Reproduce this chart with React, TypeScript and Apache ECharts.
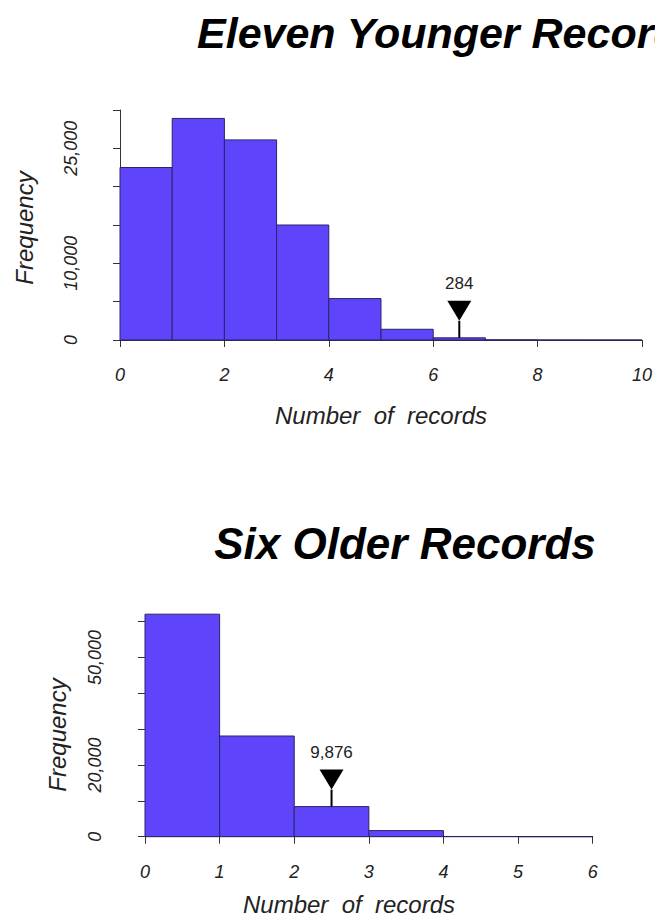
import React, { useEffect, useRef } from "react";
import * as echarts from "echarts";

const FONT = '"Liberation Sans", Arial, Helvetica, sans-serif';

// ---- Data ----
const topTitle = "Eleven Younger Records";
const bottomTitle = "Six Older Records";
const xTitle = "Number  of  records";
const yTitle = "Frequency";

const topBinEdges = [0, 1, 2, 3, 4, 5, 6, 7, 8, 9, 10];
const topCounts = [22500, 28900, 26100, 15000, 5400, 1400, 284, 20, 2, 0];
const topYLabelValues = [0, 10000, 25000];
const topMarkerX = [6.5];
const topMarkerY = [284];
const topMarkerText = ["284"];

const bottomBinEdges = [0, 1, 2, 3, 4, 5, 6];
const bottomCounts = [62100, 28100, 8400, 1700, 60, 0];
const bottomYLabelValues = [0, 20000, 50000];
const bottomMarkerX = [2.5];
const bottomMarkerY = [8400];
const bottomMarkerText = ["9,876"];

const BAR_FILL = "#5E45FC";
const BAR_STROKE = "#2a2466";
const AXIS_COLOR = "#333";

function histData(edges: number[], counts: number[]) {
  return counts.map((c, i) => [edges[i], edges[i + 1], c]);
}
function markerData(xs: number[], ys: number[], texts: string[]) {
  return xs.map((x, i) => [x, ys[i], texts[i]]);
}

const histRender = (params: any, api: any) => {
  const a = api.coord([api.value(0), api.value(2)]);
  const b = api.coord([api.value(1), 0]);
  return {
    type: "rect",
    shape: { x: a[0], y: a[1], width: b[0] - a[0], height: b[1] - a[1] },
    style: { fill: BAR_FILL, stroke: BAR_STROKE, lineWidth: 1 },
  };
};

const markerRender = (params: any, api: any) => {
  const p = api.coord([api.value(0), api.value(1)]);
  const stem = 17;
  const triH = 20;
  const triW = 12;
  const tipY = p[1] - stem;
  return {
    type: "group",
    children: [
      {
        type: "line",
        shape: { x1: p[0], y1: p[1], x2: p[0], y2: tipY },
        style: { stroke: "#000", lineWidth: 2 },
      },
      {
        type: "polygon",
        shape: {
          points: [
            [p[0] - triW, tipY - triH],
            [p[0] + triW, tipY - triH],
            [p[0], tipY],
          ],
        },
        style: { fill: "#000" },
      },
      {
        type: "text",
        x: p[0],
        y: tipY - triH - 17,
        style: {
          text: String(api.value(2)),
          fill: "#222",
          font: `17px ${FONT}`,
          textAlign: "center",
          textVerticalAlign: "middle",
        },
      },
    ],
  };
};

function yAxisCfg(gridIndex: number, max: number, interval: number, show: number[], offset: number) {
  return {
    type: "value",
    gridIndex,
    min: 0,
    max,
    interval,
    offset,
    splitLine: { show: false },
    axisLine: { show: true, lineStyle: { color: AXIS_COLOR, width: 1 } },
    axisTick: { show: true, length: 7, lineStyle: { color: AXIS_COLOR } },
    axisLabel: {
      rotate: 90,
      margin: 19,
      color: "#222",
      fontFamily: FONT,
      fontStyle: "italic",
      fontSize: 18,
      formatter: (v: number) => (show.indexOf(v) >= 0 ? v.toLocaleString("en-US") : ""),
    },
  };
}

function xAxisCfg(gridIndex: number, max: number, interval: number) {
  return {
    type: "value",
    gridIndex,
    min: 0,
    max,
    interval,
    offset: 10,
    splitLine: { show: false },
    axisLine: { show: true, lineStyle: { color: AXIS_COLOR, width: 1 } },
    axisTick: { show: true, length: 7, lineStyle: { color: AXIS_COLOR } },
    axisLabel: {
      margin: 16,
      color: "#222",
      fontFamily: FONT,
      fontStyle: "italic",
      fontSize: 18,
    },
  };
}

export default function App() {
  const ref = useRef<HTMLDivElement>(null);
  useEffect(() => {
    if (!ref.current) return;
    const chart = echarts.init(ref.current, null, { renderer: "svg" });
    const titleFont = `italic bold 43px ${FONT}`;
    const bottomTitleFont = `italic bold 44px ${FONT}`;
    const labFont = `italic 24px ${FONT}`;
    chart.setOption({
      animation: false,
      backgroundColor: "#fff",
      grid: [
        { left: 120, top: 110, width: 524, height: 230 },
        { left: 145, top: 621.7, width: 447.7, height: 215 },
      ],
      xAxis: [xAxisCfg(0, 10, 2), xAxisCfg(1, 6, 1)],
      yAxis: [
        yAxisCfg(0, 30000, 5000, topYLabelValues, 21),
        yAxisCfg(1, 60000, 10000, bottomYLabelValues, 22),
      ],
      series: [
        {
          type: "custom",
          xAxisIndex: 0,
          yAxisIndex: 0,
          renderItem: histRender,
          encode: { x: [0, 1], y: 2 },
          data: histData(topBinEdges, topCounts),
        },
        {
          type: "custom",
          xAxisIndex: 1,
          yAxisIndex: 1,
          renderItem: histRender,
          encode: { x: [0, 1], y: 2 },
          data: histData(bottomBinEdges, bottomCounts),
        },
        {
          type: "custom",
          xAxisIndex: 0,
          yAxisIndex: 0,
          renderItem: markerRender,
          encode: { x: 0, y: 1 },
          data: markerData(topMarkerX, topMarkerY, topMarkerText),
        },
        {
          type: "custom",
          xAxisIndex: 1,
          yAxisIndex: 1,
          renderItem: markerRender,
          encode: { x: 0, y: 1 },
          data: markerData(bottomMarkerX, bottomMarkerY, bottomMarkerText),
        },
      ],
      graphic: [
        {
          type: "text",
          x: 197,
          y: 33,
          style: { text: topTitle, font: titleFont, fill: "#000", textAlign: "left", textVerticalAlign: "middle" },
        },
        {
          type: "text",
          x: 405,
          y: 543,
          style: { text: bottomTitle, font: bottomTitleFont, fill: "#000", textAlign: "center", textVerticalAlign: "middle" },
        },
        {
          type: "text",
          x: 381,
          y: 415,
          style: { text: xTitle, font: labFont, fill: "#222", textAlign: "center", textVerticalAlign: "middle" },
        },
        {
          type: "text",
          x: 349,
          y: 904,
          style: { text: xTitle, font: labFont, fill: "#222", textAlign: "center", textVerticalAlign: "middle" },
        },
        {
          type: "text",
          x: 24,
          y: 228,
          rotation: Math.PI / 2,
          style: { text: yTitle, font: labFont, fill: "#222", textAlign: "center", textVerticalAlign: "middle" },
        },
        {
          type: "text",
          x: 57,
          y: 735,
          rotation: Math.PI / 2,
          style: { text: yTitle, font: labFont, fill: "#222", textAlign: "center", textVerticalAlign: "middle" },
        },
      ],
    });
    return () => chart.dispose();
  }, []);
  return (
    <div
      ref={ref}
      style={{ position: "fixed", left: 0, top: 0, width: 655, height: 917, background: "#fff" }}
    />
  );
}
